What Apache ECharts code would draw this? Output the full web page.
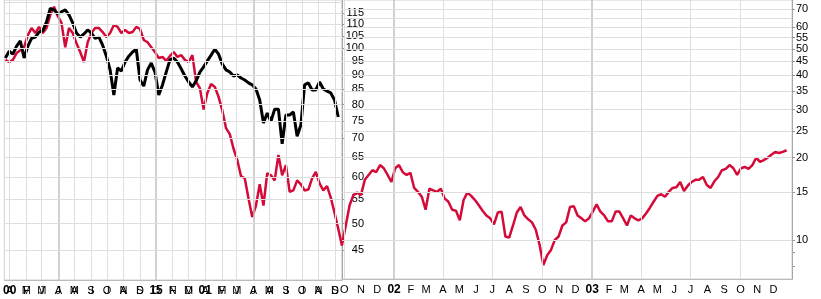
<!DOCTYPE html>
<html><head><meta charset="utf-8">
<script src="https://cdn.jsdelivr.net/npm/echarts@6/dist/echarts.min.js"></script>
<style>html,body{margin:0;padding:0;background:#fff}#c{width:821px;height:299px}</style>
</head><body><div id="c"></div>
<script>
// ---------- data ----------
const monthInitials = ['J','F','M','A','M','J','J','A','S','O','N','D'];

// left panel: weekly closes starting 1999-12-24
const leftStart = [1999, 12, 24];
const leftBlack = [96.2, 98.8, 97.7, 100.8, 102.9, 96.2, 100.8, 104.0, 104.5, 106.6,
  107.1, 111.0, 117.0, 116.4, 114.5, 115.5, 116.4, 114.1, 110.5, 106.2,
  104.5, 105.8, 107.5, 106.2, 104.0, 104.5, 101.2, 96.9, 91.8, 83.1,
  92.5, 91.4, 94.7, 96.9, 98.5, 99.6, 88.2, 86.1, 91.8, 94.3,
  91.0, 83.1, 86.5, 91.0, 95.5, 96.2, 94.7, 92.2, 89.6, 87.5,
  85.8, 87.9, 91.0, 92.9, 95.1, 97.3, 99.6, 97.7, 93.9, 91.8,
  91.0, 89.6, 90.0, 88.9, 88.2, 87.2, 86.5, 85.1, 81.5, 74.4,
  77.4, 74.9, 78.6, 78.6, 68.5, 76.8, 76.8, 77.7, 70.6, 73.8,
  86.5, 87.2, 84.8, 84.8, 87.5, 85.1, 84.4, 83.8, 81.5, 76.2];
const leftRed = [95.5, 94.7, 95.5, 98.1, 99.2, 100.4, 105.3, 108.3, 106.2, 108.8,
  106.2, 108.3, 114.1, 117.8, 113.6, 110.5, 100.4, 108.3, 106.2, 102.0,
  98.5, 94.7, 102.4, 106.2, 108.3, 108.3, 106.6, 104.5, 106.2, 109.6,
  108.8, 106.2, 107.5, 106.2, 106.6, 108.8, 107.9, 103.3, 102.4, 100.4,
  98.5, 96.2, 96.6, 95.1, 97.0, 98.5, 96.6, 97.3, 95.5, 94.7,
  97.3, 87.5, 85.4, 78.5, 83.8, 86.8, 85.8, 82.5, 78.2, 72.9,
  71.2, 67.2, 64.3, 60.3, 59.8, 55.2, 51.3, 53.7, 58.4, 53.7,
  61.0, 60.5, 59.3, 65.6, 60.5, 63.0, 56.7, 57.0, 59.3, 58.4,
  57.0, 57.2, 59.8, 61.3, 58.6, 57.0, 58.0, 55.4, 52.2, 49.0,
  45.8];

// right panel: weekly closes starting 2001-09-27
const rightStart = [2001, 9, 27];
const rightRed = [9.6, 11.3, 13.4, 14.6, 14.9, 14.6, 16.6, 17.3, 18.0, 17.7,
  18.8, 18.3, 17.3, 16.3, 18.3, 18.8, 17.7, 17.3, 17.6, 15.5,
  15.0, 14.4, 12.9, 15.4, 15.2, 15.0, 15.4, 14.2, 13.8, 12.9,
  12.8, 11.8, 14.0, 14.9, 14.5, 14.0, 13.4, 12.8, 12.3, 12.0,
  11.4, 12.6, 12.7, 10.3, 10.2, 11.3, 12.6, 13.2, 12.3, 11.9,
  11.6, 10.9, 9.6, 8.1, 8.8, 9.2, 10.0, 10.3, 11.3, 11.6,
  13.2, 13.3, 12.3, 12.0, 11.7, 12.0, 12.7, 13.5, 12.7, 12.3,
  11.7, 11.7, 12.7, 12.7, 12.0, 11.3, 12.3, 12.0, 11.8, 12.0,
  12.5, 13.1, 13.8, 14.5, 14.7, 14.4, 15.0, 15.5, 15.6, 16.3,
  15.1, 15.8, 16.3, 16.6, 16.6, 17.0, 15.9, 15.5, 16.4, 17.0,
  18.0, 18.2, 18.8, 18.3, 17.3, 18.3, 18.5, 18.2, 18.8, 20.0,
  19.3, 19.6, 20.0, 20.5, 21.0, 20.8, 21.0, 21.3];

// axis ticks
const leftTickLabels = [45, 50, 55, 60, 65, 70, 75, 80, 85, 90, 95, 100, 105, 110, 115];
const leftGridValues = [45, 50, 55, 60, 65, 70, 75, 80, 85, 90, 95, 100, 105, 110, 115, 120];
const rightTickLabels = [10, 15, 20, 25, 30, 35, 40, 45, 50, 55, 60, 65, 70];
const rightTickMarks = [8, 9, 10, 15, 20, 25, 30, 35, 40, 45, 50, 55, 60, 65, 70];
const leftYearA = {2000: '00', 2001: '01'};
const leftYearB = {2000: '15'};
const rightYear = {2002: '02', 2003: '03'};

// ---------- helpers ----------
const D = (y, m, d) => new Date(y, m - 1, d).getTime();
const weekly = (s, i) => D(s[0], s[1], s[2] + 7 * i);
function monthRange(y0, m0, y1, m1) {
  const out = [];
  let y = y0, m = m0;
  while (y < y1 || (y === y1 && m <= m1)) { out.push(D(y, m, 1)); m++; if (m > 12) { m = 1; y++; } }
  return out;
}
const leftMonths = monthRange(2000, 1, 2001, 9);
const leftDark = [D(2000, 4, 1), D(2000, 10, 1), D(2001, 4, 1)];
const rightMonths = monthRange(2001, 10, 2003, 12);
const rightQuarters = rightMonths.filter(t => new Date(t).getMonth() % 3 === 0);

const FONT = "'Liberation Sans', Arial, sans-serif";
const RED = '#d40a38';
const LIGHT = '#dedede';
const DARK = '#c2c2c2';

const rich = { y: { fontWeight: 'bold', fontSize: 12, fontFamily: FONT, color: '#000' } };

function fmtA(v) {
  const dt = new Date(v), m = dt.getMonth();
  if (m === 0) return '{y|' + leftYearA[dt.getFullYear()] + '}';
  return monthInitials[m];
}
function fmtB(v) {
  const dt = new Date(v), m = (dt.getMonth() + 3) % 12;
  if (m === 0) return '{y|' + (leftYearB[dt.getFullYear()] || '') + '}';
  return monthInitials[m];
}
function fmtR(v) {
  const dt = new Date(v), m = dt.getMonth();
  if (m === 0) return '{y|' + rightYear[dt.getFullYear()] + '}';
  return monthInitials[m];
}

function lines(xIdx, yIdx, data) {
  return {
    type: 'line', xAxisIndex: xIdx, yAxisIndex: yIdx, data: [], z: 1, silent: true, animation: false,
    markLine: { silent: true, symbol: ['none', 'none'], label: { show: false }, animation: false, data }
  };
}

const leftGridLines = [
  ...leftMonths.map(t => ({ xAxis: t, lineStyle: { color: leftDark.includes(t) ? DARK : LIGHT, width: leftDark.includes(t) ? 1.5 : 1, type: 'solid' } })),
  ...leftGridValues.map(v => ({ yAxis: v, lineStyle: { color: LIGHT, width: 1, type: 'solid' } }))
];
const rightGridLines = [
  ...rightQuarters.map(t => ({ xAxis: t, lineStyle: { color: new Date(t).getMonth() === 0 ? DARK : LIGHT, width: new Date(t).getMonth() === 0 ? 1.5 : 1, type: 'solid' } })),
  ...rightTickLabels.map(v => ({ yAxis: v, lineStyle: { color: LIGHT, width: 1, type: 'solid' } }))
];

const labelBase = { color: '#000', fontSize: 11, fontFamily: FONT, margin: 5, rich, hideOverlap: false };

const chart = echarts.init(document.getElementById('c'), null, { renderer: 'canvas' });
chart.setOption({
  animation: false,
  backgroundColor: '#fff',
  grid: [
    { left: 0, top: 0, width: 342, height: 280, show: true, borderColor: '#cfcfcf', borderWidth: 1, backgroundColor: 'transparent' },
    { left: 342, top: 0, width: 450, height: 279, show: true, borderColor: '#cfcfcf', borderWidth: 1, backgroundColor: 'transparent' }
  ],
  xAxis: [
    { type: 'value', gridIndex: 0, min: D(1999, 12, 22), max: D(2001, 9, 14), position: 'bottom', scale: true,
      axisLine: { show: true, lineStyle: { color: '#bbb' } }, axisTick: { show: false }, splitLine: { show: false },
      axisLabel: Object.assign({}, labelBase, { customValues: leftMonths, formatter: fmtA }) },
    { type: 'value', gridIndex: 0, min: D(1999, 12, 22), max: D(2001, 9, 14), position: 'bottom', scale: true,
      axisLine: { show: false }, axisTick: { show: false }, splitLine: { show: false },
      axisLabel: Object.assign({}, labelBase, { customValues: leftMonths, formatter: fmtB }) },
    { type: 'value', gridIndex: 1, min: D(2001, 9, 27), max: D(2004, 1, 4), position: 'bottom', scale: true,
      axisLine: { show: true, lineStyle: { color: '#bbb' } }, axisTick: { show: false }, splitLine: { show: false },
      axisLabel: Object.assign({}, labelBase, { customValues: rightMonths, formatter: fmtR }) }
  ],
  yAxis: [
    { type: 'log', gridIndex: 0, min: 40, max: 121, position: 'right',
      axisLine: { show: true, lineStyle: { color: '#999', type: 'dotted' } },
      axisTick: { show: true, length: 2, customValues: leftTickLabels, lineStyle: { color: '#999' } },
      splitLine: { show: false },
      axisLabel: { color: '#000', fontSize: 11, fontFamily: FONT, align: 'right', margin: 22, hideOverlap: false, showMaxLabel: true, showMinLabel: true, customValues: leftTickLabels, formatter: v => String(Math.round(v)) } },
    { type: 'log', gridIndex: 1, min: 7.2, max: 75.5, position: 'right',
      axisLine: { show: true, lineStyle: { color: '#999', type: 'dotted' } },
      axisTick: { show: true, length: 3, customValues: rightTickMarks, lineStyle: { color: '#999' } },
      splitLine: { show: false },
      axisLabel: { color: '#000', fontSize: 11, fontFamily: FONT, align: 'left', margin: 4, hideOverlap: false, showMaxLabel: true, showMinLabel: true, customValues: rightTickLabels, formatter: v => String(Math.round(v)) } }
  ],
  series: [
    lines(0, 0, leftGridLines),
    lines(2, 1, rightGridLines),
    { type: 'line', xAxisIndex: 0, yAxisIndex: 0, z: 3, symbol: 'none', showSymbol: false, animation: false,
      lineStyle: { color: RED, width: 2.5 }, data: leftRed.map((v, i) => [weekly(leftStart, i), v]) },
    { type: 'line', xAxisIndex: 0, yAxisIndex: 0, z: 4, symbol: 'none', showSymbol: false, animation: false,
      lineStyle: { color: '#000', width: 3 }, data: leftBlack.map((v, i) => [weekly(leftStart, i), v]) },
    { type: 'line', xAxisIndex: 2, yAxisIndex: 1, z: 3, symbol: 'none', showSymbol: false, animation: false,
      lineStyle: { color: RED, width: 2.5 }, data: rightRed.map((v, i) => [weekly(rightStart, i), v]) }
  ]
});
</script></body></html>
